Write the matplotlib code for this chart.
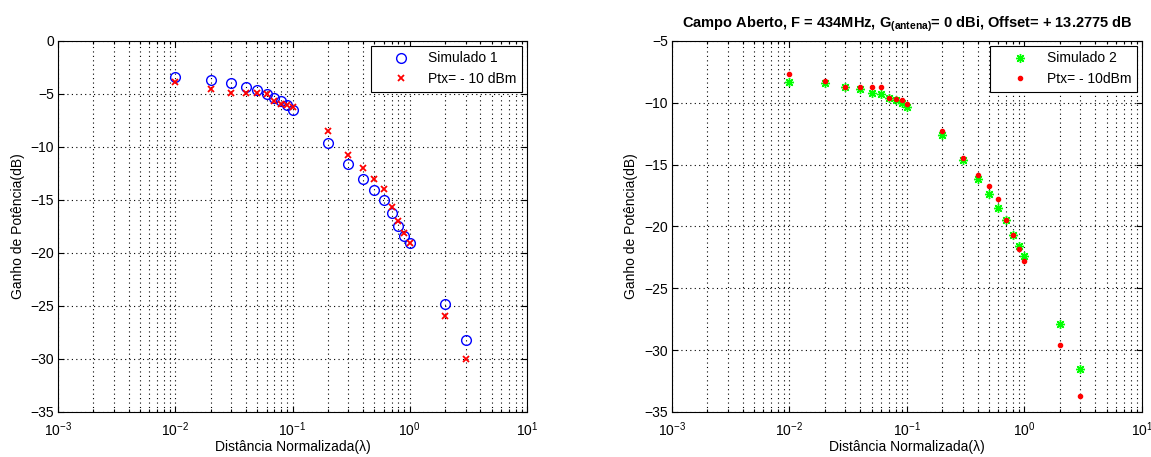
import numpy as np
import matplotlib
matplotlib.use("Agg")
import matplotlib.pyplot as plt

plt.rcParams['font.family'] = ['Liberation Sans', 'DejaVu Sans']
plt.rcParams['mathtext.fontset'] = 'custom'
plt.rcParams['mathtext.rm'] = 'Liberation Sans'
plt.rcParams['mathtext.bf'] = 'Liberation Sans:bold'

# distancias normalizadas (lambda)
dist = [0.01, 0.02, 0.03, 0.04, 0.05, 0.06, 0.07, 0.08, 0.09, 0.1,
        0.2, 0.3, 0.4, 0.5, 0.6, 0.7, 0.8, 0.9, 1.0, 2.0, 3.0]

# grafico 1
sim1 = [-3.4, -3.7, -4.0, -4.3, -4.6, -5.0, -5.4, -5.7, -6.0, -6.5,
        -9.6, -11.6, -13.0, -14.1, -15.0, -16.2, -17.5, -18.4, -19.1, -24.8, -28.2]
med1 = [-3.9, -4.5, -4.9, -4.9, -4.9, -5.0, -5.7, -5.9, -6.0, -6.2,
        -8.5, -10.8, -12.0, -13.0, -14.0, -15.7, -17.0, -18.1, -19.1, -25.9, -30.0]

# grafico 2
sim2 = [-8.3, -8.4, -8.7, -8.9, -9.2, -9.3, -9.6, -9.8, -10.0, -10.3,
        -12.6, -14.6, -16.2, -17.4, -18.5, -19.5, -20.7, -21.6, -22.4, -27.9, -31.5]
med2 = [-7.7, -8.2, -8.7, -8.7, -8.7, -8.7, -9.6, -9.7, -9.8, -10.1,
        -12.3, -14.5, -15.8, -16.7, -17.8, -19.5, -20.7, -21.8, -22.8, -29.6, -33.7]

fig = plt.figure(figsize=(11.51, 4.57), dpi=100)
ax1 = fig.add_axes([0.0504, 0.0985, 0.4075, 0.8118])
ax2 = fig.add_axes([0.5838, 0.0985, 0.4083, 0.8118])

def estilo(ax, ylim, yt):
    ax.set_xscale('log')
    ax.set_xlim(1e-3, 10)
    ax.set_ylim(*ylim)
    ax.set_yticks(yt)
    ax.grid(True, which='major', axis='both', color='k', linestyle=(0, (1, 3)), linewidth=0.8)
    ax.grid(True, which='minor', axis='x', color='k', linestyle=(0, (1, 3)), linewidth=0.8)
    ax.tick_params(which='both', direction='in', top=True, right=True, labelsize=10)
    ax.tick_params(which='major', length=4, width=0.8)
    ax.tick_params(which='minor', length=2.5, width=0.8)
    ax.tick_params(axis='x', which='major', pad=6)
    ax.tick_params(axis='y', which='major', pad=3)
    ax.set_xlabel('Distância Normalizada(λ)', fontsize=10, labelpad=1)
    ax.set_ylabel('Ganho de Potência(dB)', fontsize=10, labelpad=4)
    for s in ax.spines.values():
        s.set_linewidth(0.8)

ax1.plot(dist, sim1, 'o', mfc='none', mec='b', ms=7, mew=1, label='Simulado 1')
ax1.plot(dist, med1, 'x', color='r', ms=4.5, mew=1.3, label='Ptx= - 10 dBm')
estilo(ax1, (-35, 0), np.arange(-35, 1, 5))

ax2.plot(dist, sim2, ls='none', marker=(8, 2, 0), color='#00ff00', ms=6.5, mew=1.0, label='Simulado 2')
ax2.plot(dist, med2, '.', color='r', ms=6, label='Ptx= - 10dBm')
estilo(ax2, (-35, -5), np.arange(-35, -4, 5))
ax2.set_title(r'Campo Aberto, F = 434MHz, G$_{\mathbf{(antena)}}$= 0 dBi, Offset= + 13.2775 dB',
              fontsize=10.5, fontweight='bold', pad=10)

for ax in (ax1, ax2):
    leg = ax.legend(loc='upper right', fontsize=10, fancybox=False, framealpha=1,
                    edgecolor='k', borderaxespad=0.35, handlelength=3.5,
                    handletextpad=0.2, borderpad=0.4)
    leg.get_frame().set_linewidth(0.8)

fig.savefig('out.png', dpi=100)
